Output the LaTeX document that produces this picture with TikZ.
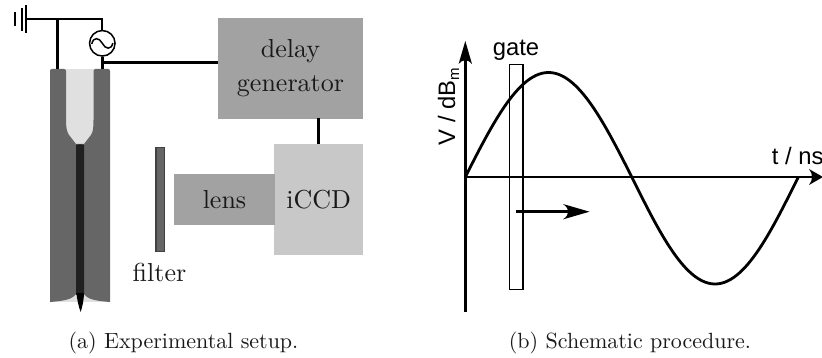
\documentclass[tikz,border=0pt]{standalone}
\usepackage{fontspec}
\newfontfamily\hv{Liberation Sans}
\newfontfamily\lmten[Extension=.otf]{lmroman10-regular}
\usetikzlibrary{arrows.meta}
\definecolor{wallgray}{HTML}{666666}
\definecolor{lightfill}{HTML}{E0E0E0}
\definecolor{boxmid}{HTML}{A1A2A1}
\definecolor{boxlight}{HTML}{C8C8C8}
\definecolor{rod}{HTML}{202020}
\tikzset{
  wire/.style={line width=2pt,black},
  thickwire/.style={line width=3pt,black},
  lab/.style={font=\lmten\fontsize{26}{34}\selectfont,align=center,inner sep=0pt,text=black!90},
  captext/.style={font=\lmten\fontsize{22}{26}\selectfont,inner sep=0pt,text=black!90},
  sans/.style={font=\hv\fontsize{23.8}{26}\selectfont,inner sep=0pt},
  curveline/.style={line width=2.8pt,black},
  axisline/.style={line width=2.6pt,black},
}
\begin{document}
\begin{tikzpicture}[x=1pt,y=-1pt]
\useasboundingbox (0,0) rectangle (822,358);
% tube
\fill[lightfill] (50,69) rectangle (110,302);
\fill[wallgray] (50,71) .. controls (50,70) and (51,69) .. (52,69) -- (64,69) .. controls (65,69) and (66,70) .. (66,71) -- (66,120) .. controls (66,128) and (67,132) .. (69,135) -- (76,144) -- (84,144) -- (91,135) .. controls (93,132) and (93.5,128) .. (93.5,120) -- (93.5,71) .. controls (93.5,70) and (94.5,69) .. (95.5,69) -- (108,69) .. controls (109,69) and (110,70) .. (110,71) -- (110,302) .. controls (98,301) and (88,300) .. (84,294) -- (76,294) .. controls (72,300) and (62,301) .. (50,302) -- cycle;
\fill[rod] (76,145) .. controls (77,144) and (83,144) .. (84,145) -- (84,295) -- (76,295) -- cycle;
\fill[black] (76.5,293) -- (84,293) .. controls (84,300) and (82,308) .. (80.7,312) .. controls (79,308) and (77,300) .. (76.5,293) -- cycle;
% wiring
\coordinate (gnd) at (26,19);
\coordinate (ja) at (57.3,19);
\coordinate (jb) at (102.3,19);
\coordinate (ta) at (57.3,69);
\coordinate (tb) at (102.3,69);
\coordinate (jc) at (102.3,63);
\node[circle,draw=black,line width=1.5pt,fill=white,minimum size=25.5pt,inner sep=0pt] (src) at (102.3,43.3) {};
\draw[line width=1.5pt] (91.8,44) .. controls (93.3,36.5) and (99.3,37.5) .. (102.3,43.3) .. controls (105.3,49.3) and (111.3,50.3) .. (112.8,43);
\draw[wire] (gnd) -- (jb) -- (src);
\draw[line width=3.3pt] (ja) -- (ta);
\draw[thickwire] (src) -- (tb);
\draw[line width=2.5pt] (26,5) -- (26,33);
\draw[wire] (21.7,8) -- (21.7,31);
\draw[line width=2.2pt] (15,12) -- (15,26);
% boxes
\node[fill=boxmid,lab,minimum width=145pt,minimum height=100.5pt] (delay) at (290.5,68.3) {delay\\generator};
\node[fill=boxlight,lab,minimum width=88.5pt,minimum height=111pt] (iccd) at (318.7,199.5) {iCCD};
\node[fill=boxmid,lab,minimum width=101pt,minimum height=50.7pt] (lens) at (224.5,199.4) {lens};
\node[fill=wallgray,draw=rod!85,line width=1.2pt,minimum width=8.2pt,minimum height=103.5pt,inner sep=0pt] (flt) at (160,199.4) {};
\node[lab,anchor=base] (flabel) at (159.5,281.7) {filter};
\draw[thickwire] (jc) -- (delay.west |- jc);
\draw[thickwire] (318,118.5) -- (318,144);
% right plot
\coordinate (o) at (465.3,177);
\coordinate (ytop) at (465.3,41);
\coordinate (ybot) at (465.3,311.7);
\coordinate (xend) at (812,177);
\draw[axisline] (ybot) -- (465.3,58);
\fill[black] (ytop) -- (472,64) .. controls (468,59) and (462.6,59) .. (458.6,64) -- cycle;
\draw[axisline] (o) -- (xend);
\fill[black] (823,177) -- (809,169) .. controls (813,174) and (813,180) .. (809,185) -- cycle;
\node[draw=black,line width=1.3pt,minimum width=13.5pt,minimum height=224.6pt,inner sep=0pt] (gatebox) at (516.2,177) {};
\draw[curveline] plot[domain=0:180,samples=60,smooth] ({465.3+\x*0.925},{177-104.5*sin(\x)});
\draw[curveline] plot[domain=180:360,samples=60,smooth] ({465.3+\x*0.925},{177-107*sin(\x)});
\draw[line width=2.5pt] (516,211.7) -- (578,211.7);
\fill[black] (589.5,211.7) -- (563,204) .. controls (570,209) and (570,214.4) .. (563,219.4) -- cycle;
\node[sans,anchor=base] (gt) at (516,56) {gate};
\node[sans,anchor=base,rotate=90] (vl) at (455,106.7) {V / dB\raisebox{-4pt}{\fontsize{15}{15}\selectfont m}};
\node[sans,anchor=base west] (tl) at (771.7,165) {t / ns};
% captions
\node[captext,anchor=base] (ca) at (183.5,348) {(a) Experimental setup.};
\node[captext,anchor=base] (cb) at (630,348) {(b) Schematic procedure.};
\end{tikzpicture}
\end{document}
